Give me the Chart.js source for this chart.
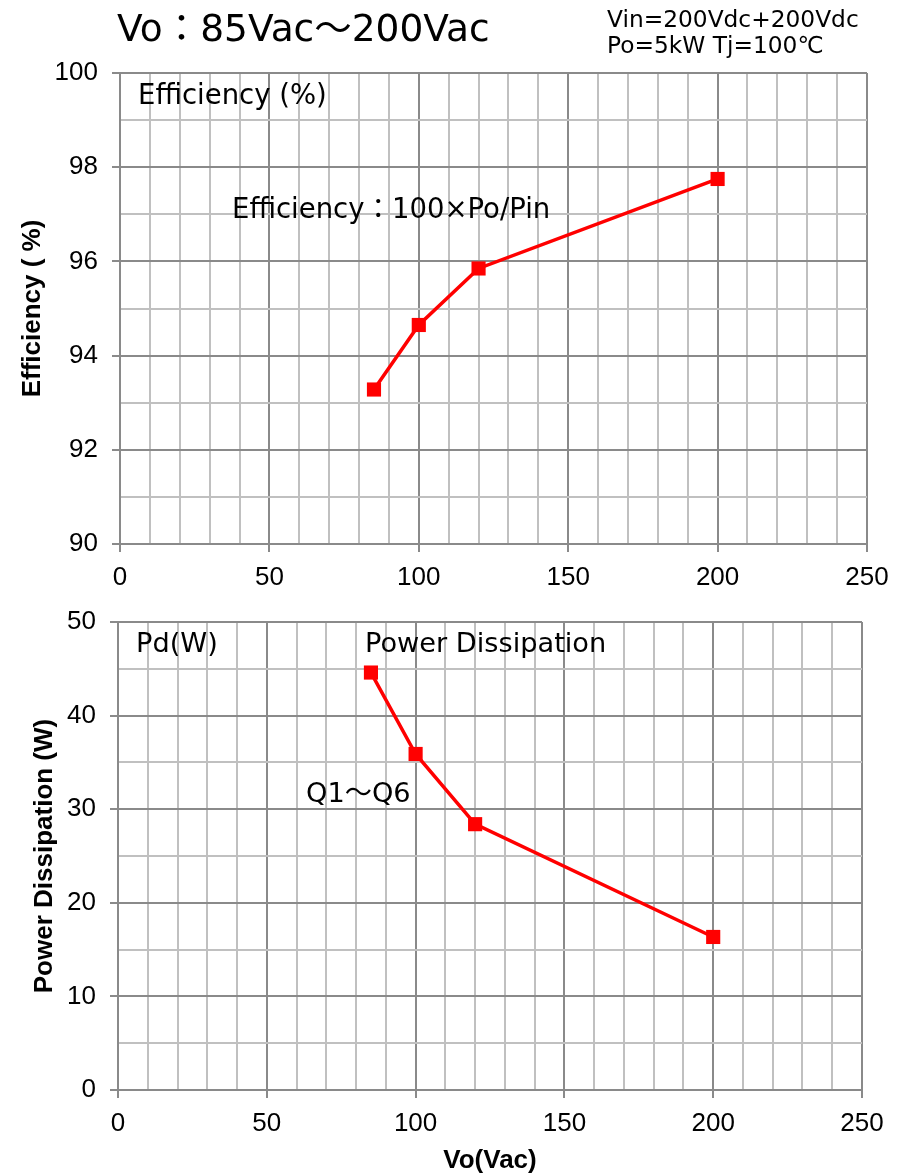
<!DOCTYPE html>
<html>
<head>
<meta charset="utf-8">
<script src="https://cdn.jsdelivr.net/npm/chart.js@4/dist/chart.umd.min.js"></script>
<style>
  html, body { margin: 0; padding: 0; background: #fff; }
  #wrap { position: relative; width: 904px; height: 1176px; overflow: hidden; }
  canvas { position: absolute; left: 0; }
  .t { position: absolute; font-family: "DejaVu Sans", "Noto Sans CJK JP", sans-serif; color: #000; line-height: 1; white-space: nowrap; }
</style>
</head>
<body>
<div id="wrap">
  <canvas id="c1" width="904" height="592" style="top:0"></canvas>
  <canvas id="c2" width="904" height="584" style="top:592px"></canvas>
  <div class="t" style="left:117px;top:10px;font-size:37.5px;">Vo：85Vac～200Vac</div>
  <div class="t" style="left:607px;top:7px;font-size:23.3px;">Vin=200Vdc+200Vdc</div>
  <div class="t" style="left:607px;top:33px;font-size:23.3px;">Po=5kW Tj=100℃</div>
  <div class="t" style="left:138px;top:81px;font-size:27.5px;">Efficiency (%)</div>
  <div class="t" style="left:232px;top:195px;font-size:27.5px;">Efficiency：100×Po/Pin</div>
  <div class="t" style="left:136px;top:629px;font-size:27.2px;">Pd(W)</div>
  <div class="t" style="left:365px;top:629px;font-size:27.2px;">Power Dissipation</div>
  <div class="t" style="left:306px;top:779px;font-size:27.2px;">Q1～Q6</div>
</div>
<script>
const voltages = [85, 100, 120, 200];
const efficiency = [93.28, 94.65, 95.85, 97.75];
const powerDissipation = [44.6, 35.9, 28.4, 16.35];

const xMin = 0, xMax = 250, xStep = 10, xMajor = 50;
const effMin = 90, effMax = 100, effStep = 1, effMajor = 2;
const pdMin = 0, pdMax = 50, pdStep = 5, pdMajor = 10;

const MAJOR = '#8a8a8a';
const MINOR = '#c0c0c0';
const RED = '#ff0000';
const tickFont = { family: '"Liberation Sans", Arial, sans-serif', size: 26 };
const titleFont = { family: '"Liberation Sans", Arial, sans-serif', size: 26, weight: 'bold' };

function isMajor(v, m) { return Math.abs(v / m - Math.round(v / m)) < 1e-6; }

function makeX(major, opts) {
  return Object.assign({
    type: 'linear', min: xMin, max: xMax,
    ticks: {
      stepSize: xStep, autoSkip: false, maxRotation: 0, color: '#000', font: tickFont, padding: 10,
      callback: v => isMajor(v, major) ? String(v) : ''
    },
    grid: {
      color: c => isMajor(c.tick.value, major) ? MAJOR : MINOR,
      tickColor: c => isMajor(c.tick.value, major) ? MAJOR : 'rgba(0,0,0,0)',
      lineWidth: 2, tickLength: 8, drawTicks: true
    },
    border: { display: true, color: MAJOR, width: 2 }
  }, opts);
}
function makeY(min, max, step, major, title, titlePad, width) {
  return {
    type: 'linear', min: min, max: max,
    ticks: {
      stepSize: step, autoSkip: false, color: '#000', font: tickFont, padding: 14,
      callback: v => isMajor(v, major) ? String(v) : ''
    },
    grid: {
      color: c => isMajor(c.tick.value, major) ? MAJOR : MINOR,
      tickColor: c => isMajor(c.tick.value, major) ? MAJOR : 'rgba(0,0,0,0)',
      lineWidth: 2, tickLength: 8, drawTicks: true
    },
    border: { display: true, color: MAJOR, width: 2 },
    title: { display: true, text: title, color: '#000', font: titleFont, padding: { top: titlePad, bottom: 0 } },
    afterFit: s => { s.width = width; }
  };
}
function dataset(ys) {
  return {
    data: voltages.map((x, i) => ({ x: x, y: ys[i] })),
    showLine: true,
    borderColor: RED, borderWidth: 3.5,
    pointStyle: 'rect', pointRadius: 10, pointHoverRadius: 10,
    pointBackgroundColor: RED, pointBorderColor: RED, pointBorderWidth: 0
  };
}
const common = {
  responsive: false, animation: false,
  plugins: { legend: { display: false }, tooltip: { enabled: false } },
  events: []
};

new Chart(document.getElementById('c1'), {
  type: 'scatter',
  data: { datasets: [dataset(efficiency)] },
  options: Object.assign({}, common, {
    layout: { padding: { top: 73, right: 37, left: 0, bottom: 0 } },
    scales: {
      x: makeX(xMajor, { afterFit: s => { s.height = 48; } }),
      y: makeY(effMin, effMax, effStep, effMajor, 'Efficiency ( %)', 17, 120)
    }
  })
});

new Chart(document.getElementById('c2'), {
  type: 'scatter',
  data: { datasets: [dataset(powerDissipation)] },
  options: Object.assign({}, common, {
    layout: { padding: { top: 30, right: 42, left: 0, bottom: 0 } },
    scales: {
      x: makeX(xMajor, {
        title: { display: true, text: 'Vo(Vac)', color: '#000', font: titleFont, padding: { top: 0, bottom: 0 } },
        afterFit: s => { s.height = 86; }
      }),
      y: makeY(pdMin, pdMax, pdStep, pdMajor, 'Power Dissipation (W)', 29, 118)
    }
  })
});
</script>
</body>
</html>
